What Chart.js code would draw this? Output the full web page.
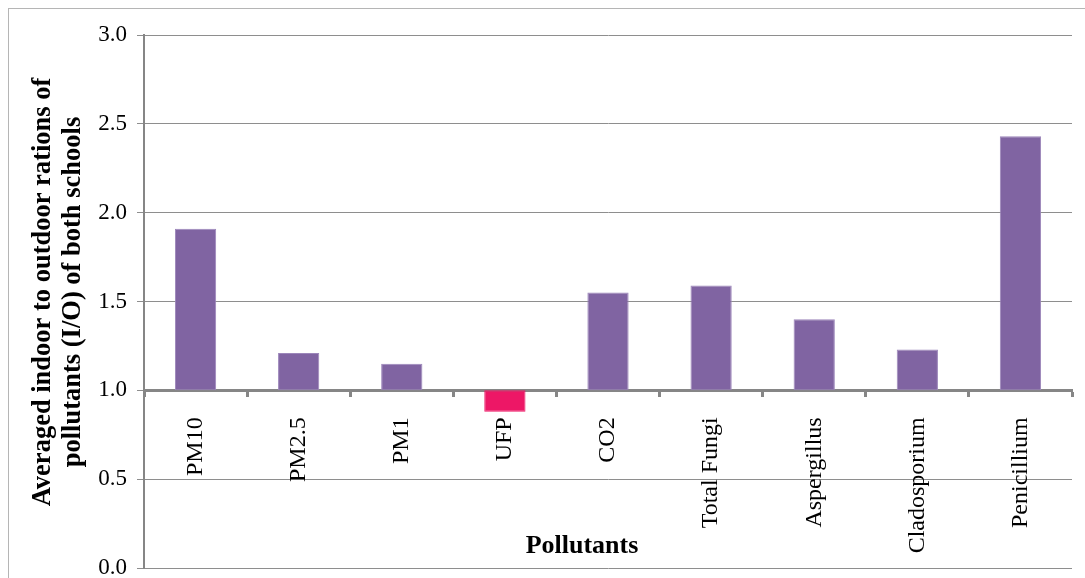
<!DOCTYPE html>
<html>
<head>
<meta charset="utf-8">
<script src="https://cdn.jsdelivr.net/npm/chart.js@4/dist/chart.umd.min.js"></script>
<style>
  html, body { margin: 0; padding: 0; background: #fff; }
  #wrap { width: 1085px; height: 578px; position: relative; }
</style>
</head>
<body>
<div id="wrap"><canvas id="ioChart"></canvas></div>
<script>
// Averaged I/O ratios
const pollutants = ["PM10", "PM2.5", "PM1", "UFP", "CO2", "Total Fungi", "Aspergillus", "Cladosporium", "Penicillium"];
const ioRatios = [1.91, 1.21, 1.15, 0.88, 1.55, 1.59, 1.40, 1.23, 2.43];
const yTicks = [0.0, 0.5, 1.0, 1.5, 2.0, 2.5, 3.0];
const baseValue = 1.0; // bars grow from the I/O = 1 line

const yTitleLines = ["Averaged indoor to outdoor rations of", "pollutants (I/O) of both schools"];
const xTitle = "Pollutants";

const serif = '"Liberation Serif", "Times New Roman", serif';

// frame around the whole chart + axis titles drawn inside the plot
const decorations = {
  id: "decorations",
  beforeDraw(chart) {
    const ctx = chart.ctx;
    ctx.save();
    ctx.strokeStyle = "#b5b5b5";
    ctx.lineWidth = 1;
    ctx.strokeRect(8.5, 8.5, 1200, 700);
    ctx.restore();
  },
  afterDraw(chart) {
    const ctx = chart.ctx;
    ctx.save();
    ctx.fillStyle = "#000";
    ctx.font = "bold 26px " + serif;
    ctx.textAlign = "center";
    ctx.textBaseline = "alphabetic";
    ctx.fillText(xTitle, 582, 553);

    ctx.font = "bold 26.5px " + serif;
    ctx.translate(0, 292);
    ctx.rotate(-Math.PI / 2);
    ctx.textBaseline = "middle";
    ctx.fillText(yTitleLines[0], 0, 43);
    ctx.fillText(yTitleLines[1], 0, 73);
    ctx.restore();
  }
};

const ctx = document.getElementById("ioChart").getContext("2d");

const ioChart = new Chart(ctx, {
  type: "bar",
  data: {
    labels: pollutants,
    datasets: [
      {
        label: "I/O ratio",
        data: ioRatios.map(v => [baseValue, v]),
        backgroundColor: ioRatios.map(v => (v < baseValue ? "#ED1766" : "#8064A2")),
        borderColor: ioRatios.map(v => (v < baseValue ? "#ED1766" : "#9C86BA")),
        borderWidth: 1,
        borderSkipped: false,
        categoryPercentage: 1.0,
        barPercentage: 0.4
      }
    ]
  },
  options: {
    responsive: true,
    maintainAspectRatio: false,
    animation: false,
    layout: {
      padding: { top: 35, right: 13, bottom: 10, left: 0 }
    },
    scales: {
      x: {
        position: { y: baseValue },
        offset: true,
        grid: {
          display: true,
          drawOnChartArea: false,
          drawTicks: true,
          tickLength: 5,
          tickWidth: 3,
          tickColor: "#868686",
          offset: true
        },
        border: { display: true, color: "#868686", width: 3 },
        ticks: {
          autoSkip: false,
          minRotation: 90,
          maxRotation: 90,
          padding: 22,
          color: "#000",
          font: { family: serif, size: 24 }
        },
        afterFit(scale) {
          scale.paddingLeft = 0;
          scale.paddingRight = 0;
        }
      },
      y: {
        min: 0,
        max: 3,
        afterBuildTicks(scale) {
          scale.ticks = yTicks.map(v => ({ value: v }));
        },
        grid: {
          color: "#8e8e8e",
          lineWidth: 1,
          tickLength: 7
        },
        border: { display: true, color: "#868686", width: 2 },
        ticks: {
          padding: 10,
          color: "#000",
          font: { family: serif, size: 23 },
          callback: v => Number(v).toFixed(1)
        },
        afterFit(scale) {
          scale.width = 144;
          scale.paddingTop = 0;
          scale.paddingBottom = 0;
        }
      }
    },
    plugins: {
      legend: { display: false },
      title: { display: false },
      tooltip: { enabled: false }
    }
  },
  plugins: [decorations]
});
</script>
</body>
</html>
